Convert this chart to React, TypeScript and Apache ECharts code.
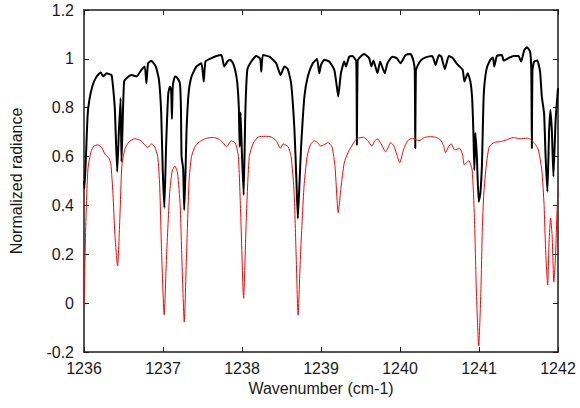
import React, { useEffect, useRef } from "react";
import * as echarts from "echarts";

// Tick labels
const xTicks = ["1236", "1237", "1238", "1239", "1240", "1241", "1242"];
const yTicks = ["-0.2", "0", "0.2", "0.4", "0.6", "0.8", "1", "1.2"];

// Measured spectrum (black): [wavenumber, normalized radiance]
const measured: [number, number][] = [
  [1236.0, 0.5], [1236.006, 0.47], [1236.025, 0.6], [1236.044, 0.76], [1236.067, 0.83],
  [1236.11, 0.893], [1236.16, 0.928], [1236.211, 0.944], [1236.243, 0.928], [1236.286, 0.941],
  [1236.315, 0.938], [1236.349, 0.934], [1236.369, 0.881], [1236.391, 0.79], [1236.42, 0.538],
  [1236.441, 0.7], [1236.463, 0.839], [1236.475, 0.579], [1236.495, 0.805], [1236.508, 0.907],
  [1236.538, 0.921], [1236.601, 0.934], [1236.664, 0.928], [1236.727, 0.955], [1236.769, 0.969],
  [1236.79, 0.9], [1236.811, 0.982], [1236.853, 0.992], [1236.908, 0.969], [1236.949, 0.914],
  [1236.977, 0.78], [1236.996, 0.55], [1237.017, 0.39], [1237.04, 0.65], [1237.067, 0.859],
  [1237.088, 0.887], [1237.103, 0.87], [1237.113, 0.754], [1237.124, 0.89], [1237.151, 0.928],
  [1237.172, 0.925], [1237.214, 0.9], [1237.227, 0.8], [1237.235, 0.6], [1237.255, 0.55],
  [1237.269, 0.381], [1237.286, 0.55], [1237.298, 0.709], [1237.324, 0.859], [1237.361, 0.928],
  [1237.424, 0.969], [1237.487, 0.982], [1237.516, 0.907], [1237.538, 0.99], [1237.614, 1.003],
  [1237.677, 1.012], [1237.74, 1.016], [1237.774, 0.969], [1237.815, 0.989], [1237.853, 0.996],
  [1237.887, 0.982], [1237.916, 0.95], [1237.941, 0.9], [1237.96, 0.8], [1237.97, 0.64],
  [1237.982, 0.78], [1237.998, 0.62], [1238.021, 0.443], [1238.042, 0.777], [1238.067, 0.955],
  [1238.118, 0.989], [1238.181, 1.012], [1238.231, 1.0], [1238.244, 0.948], [1238.265, 1.016],
  [1238.348, 1.009], [1238.433, 0.982], [1238.487, 0.934], [1238.538, 0.969], [1238.58, 0.958],
  [1238.622, 0.9], [1238.664, 0.709], [1238.689, 0.5], [1238.707, 0.347], [1238.729, 0.5],
  [1238.748, 0.64], [1238.79, 0.846], [1238.833, 0.928], [1238.896, 0.982], [1238.95, 0.999],
  [1238.979, 0.941], [1239.0, 0.975], [1239.042, 0.996], [1239.105, 0.989], [1239.168, 0.955],
  [1239.195, 0.9], [1239.218, 0.846], [1239.252, 0.941], [1239.294, 0.989], [1239.316, 0.969],
  [1239.357, 1.009], [1239.4, 1.012], [1239.446, 0.99], [1239.454, 0.648], [1239.463, 0.99],
  [1239.483, 1.003], [1239.546, 1.02], [1239.609, 1.003], [1239.639, 0.969], [1239.664, 0.993],
  [1239.715, 0.941], [1239.748, 0.989], [1239.807, 0.941], [1239.841, 0.982], [1239.904, 1.009],
  [1239.958, 1.003], [1240.008, 0.982], [1240.071, 1.016], [1240.134, 1.02], [1240.172, 0.989],
  [1240.187, 0.95], [1240.193, 0.634], [1240.201, 0.95], [1240.219, 0.969], [1240.261, 0.993],
  [1240.324, 1.006], [1240.408, 1.012], [1240.45, 0.975], [1240.492, 1.016], [1240.523, 1.009],
  [1240.568, 0.958], [1240.618, 1.012], [1240.669, 1.003], [1240.714, 0.982], [1240.752, 0.969],
  [1240.794, 0.955], [1240.815, 0.907], [1240.857, 0.941], [1240.891, 0.907], [1240.912, 0.846],
  [1240.929, 0.7], [1240.941, 0.545], [1240.954, 0.697], [1240.973, 0.6], [1240.996, 0.415],
  [1241.017, 0.45], [1241.038, 0.574], [1241.059, 0.846], [1241.093, 0.955], [1241.143, 0.996],
  [1241.177, 1.006], [1241.193, 0.969], [1241.227, 1.012], [1241.29, 1.016], [1241.311, 0.993],
  [1241.374, 1.003], [1241.437, 1.012], [1241.5, 1.012], [1241.534, 0.989], [1241.571, 1.034],
  [1241.606, 1.048], [1241.647, 1.03], [1241.662, 0.95], [1241.669, 0.634], [1241.676, 0.95],
  [1241.697, 0.989], [1241.739, 0.993], [1241.773, 0.948], [1241.795, 0.846], [1241.824, 0.777],
  [1241.843, 0.6], [1241.866, 0.456], [1241.887, 0.7], [1241.904, 0.791], [1241.923, 0.7],
  [1241.942, 0.518], [1241.97, 0.75], [1242.0, 0.88],
];

// Model spectrum (red): [wavenumber, normalized radiance]
const model: [number, number][] = [
  [1236.0, -0.01], [1236.025, 0.35], [1236.05, 0.55], [1236.088, 0.62], [1236.126, 0.643],
  [1236.176, 0.648], [1236.227, 0.635], [1236.265, 0.61], [1236.315, 0.594], [1236.34, 0.57],
  [1236.366, 0.45], [1236.391, 0.28], [1236.425, 0.152], [1236.454, 0.35], [1236.479, 0.56],
  [1236.517, 0.63], [1236.567, 0.66], [1236.643, 0.673], [1236.719, 0.665], [1236.769, 0.648],
  [1236.807, 0.637], [1236.857, 0.652], [1236.895, 0.64], [1236.933, 0.6], [1236.958, 0.48],
  [1236.983, 0.2], [1237.015, -0.048], [1237.046, 0.2], [1237.084, 0.45], [1237.116, 0.54],
  [1237.151, 0.561], [1237.185, 0.53], [1237.217, 0.4], [1237.242, 0.15], [1237.269, -0.077],
  [1237.298, 0.2], [1237.33, 0.5], [1237.361, 0.6], [1237.412, 0.645], [1237.475, 0.663],
  [1237.55, 0.675], [1237.638, 0.678], [1237.714, 0.67], [1237.765, 0.655], [1237.803, 0.64],
  [1237.866, 0.664], [1237.916, 0.655], [1237.954, 0.6], [1237.985, 0.35], [1238.02, 0.02],
  [1238.055, 0.35], [1238.092, 0.6], [1238.143, 0.655], [1238.206, 0.68], [1238.294, 0.683],
  [1238.37, 0.68], [1238.433, 0.665], [1238.487, 0.634], [1238.521, 0.652], [1238.584, 0.64],
  [1238.622, 0.6], [1238.66, 0.45], [1238.685, 0.2], [1238.71, -0.049], [1238.741, 0.2],
  [1238.785, 0.477], [1238.824, 0.6], [1238.868, 0.65], [1238.916, 0.665], [1238.962, 0.655],
  [1238.994, 0.643], [1239.038, 0.648], [1239.088, 0.657], [1239.139, 0.64], [1239.177, 0.56],
  [1239.218, 0.37], [1239.252, 0.47], [1239.294, 0.574], [1239.34, 0.615], [1239.391, 0.645],
  [1239.454, 0.673], [1239.538, 0.679], [1239.592, 0.665], [1239.643, 0.643], [1239.681, 0.665],
  [1239.715, 0.672], [1239.756, 0.655], [1239.819, 0.62], [1239.883, 0.657], [1239.92, 0.645],
  [1239.958, 0.61], [1239.996, 0.575], [1240.046, 0.63], [1240.097, 0.665], [1240.156, 0.675],
  [1240.24, 0.665], [1240.311, 0.678], [1240.387, 0.682], [1240.462, 0.678], [1240.513, 0.668],
  [1240.551, 0.645], [1240.576, 0.616], [1240.614, 0.64], [1240.648, 0.652], [1240.693, 0.627],
  [1240.752, 0.634], [1240.79, 0.61], [1240.815, 0.566], [1240.87, 0.583], [1240.913, 0.545],
  [1240.942, 0.35], [1240.967, 0.05], [1240.996, -0.175], [1241.024, 0.05], [1241.042, 0.3],
  [1241.061, 0.45], [1241.093, 0.566], [1241.13, 0.64], [1241.193, 0.658], [1241.269, 0.661],
  [1241.345, 0.668], [1241.433, 0.678], [1241.521, 0.673], [1241.606, 0.675], [1241.647, 0.672],
  [1241.685, 0.661], [1241.723, 0.645], [1241.752, 0.627], [1241.795, 0.545], [1241.824, 0.4],
  [1241.843, 0.22], [1241.869, 0.074], [1241.887, 0.25], [1241.906, 0.348], [1241.925, 0.28],
  [1241.948, 0.087], [1241.97, 0.2], [1241.988, 0.38], [1242.0, 0.46],
];

const xTitle = "Wavenumber (cm-1)";
const yTitle = "Normalized radiance";

export default function App() {
  const ref = useRef<HTMLDivElement>(null);
  useEffect(() => {
    if (!ref.current) return;
    const chart = echarts.init(ref.current, null, { renderer: "svg" });
    const xMin = Number(xTicks[0]);
    const xMax = Number(xTicks[xTicks.length - 1]);
    const xInt = Number(xTicks[1]) - Number(xTicks[0]);
    const yMin = Number(yTicks[0]);
    const yMax = Number(yTicks[yTicks.length - 1]);
    const yInt = 0.2;
    const font = "Liberation Sans, Arial, sans-serif";
    const axisLine = { show: true, onZero: false, lineStyle: { color: "#1a1a1a", width: 1.5 } };
    const tick = { show: true, inside: true, length: 5, lineStyle: { color: "#1a1a1a", width: 1 } };
    const fmtX = (v: number) => {
      const s = xTicks.find((t) => Number(t) === Math.round(v));
      return s ?? String(Math.round(v));
    };
    const fmtY = (v: number) => {
      const r = Math.round(v * 10) / 10;
      const s = yTicks.find((t) => Number(t) === r);
      return s ?? String(r);
    };
    chart.setOption({
      animation: false,
      backgroundColor: "#ffffff",
      grid: { left: 82, right: 22, top: 10, bottom: 56, containLabel: false },
      xAxis: [
        {
          type: "value", min: xMin, max: xMax, interval: xInt, position: "bottom",
          name: xTitle, nameLocation: "middle", nameGap: 25,
          nameTextStyle: { fontFamily: font, fontSize: 16, color: "#1a1a1a" },
          axisLine, axisTick: tick,
          axisLabel: { fontFamily: font, fontSize: 16, color: "#1a1a1a", margin: 8, formatter: fmtX },
          splitLine: { show: false },
        },
        {
          type: "value", min: xMin, max: xMax, interval: xInt, position: "top",
          axisLine, axisTick: tick, axisLabel: { show: false }, splitLine: { show: false },
        },
      ],
      yAxis: [
        {
          type: "value", min: yMin, max: yMax, interval: yInt, position: "left",
          name: yTitle, nameLocation: "middle", nameGap: 60, nameRotate: 90,
          nameTextStyle: { fontFamily: font, fontSize: 16, color: "#1a1a1a" },
          axisLine, axisTick: tick,
          axisLabel: { fontFamily: font, fontSize: 16, color: "#1a1a1a", margin: 10, formatter: fmtY },
          splitLine: { show: false },
        },
        {
          type: "value", min: yMin, max: yMax, interval: yInt, position: "right",
          axisLine, axisTick: tick, axisLabel: { show: false }, splitLine: { show: false },
        },
      ],
      series: [
        {
          type: "line", name: "measured", data: measured, xAxisIndex: 0, yAxisIndex: 0,
          showSymbol: false, symbol: "none", clip: true, smooth: 0.15,
          lineStyle: { color: "#000000", width: 2 }, z: 2,
        },
        {
          type: "line", name: "model", data: model, xAxisIndex: 0, yAxisIndex: 0,
          showSymbol: false, symbol: "none", clip: true, smooth: 0.2,
          lineStyle: { color: "#ff0000", width: 1 }, z: 3,
        },
      ],
    });
    return () => chart.dispose();
  }, []);
  return <div ref={ref} style={{ width: 580, height: 408, position: "absolute", left: 0, top: 0 }} />;
}
